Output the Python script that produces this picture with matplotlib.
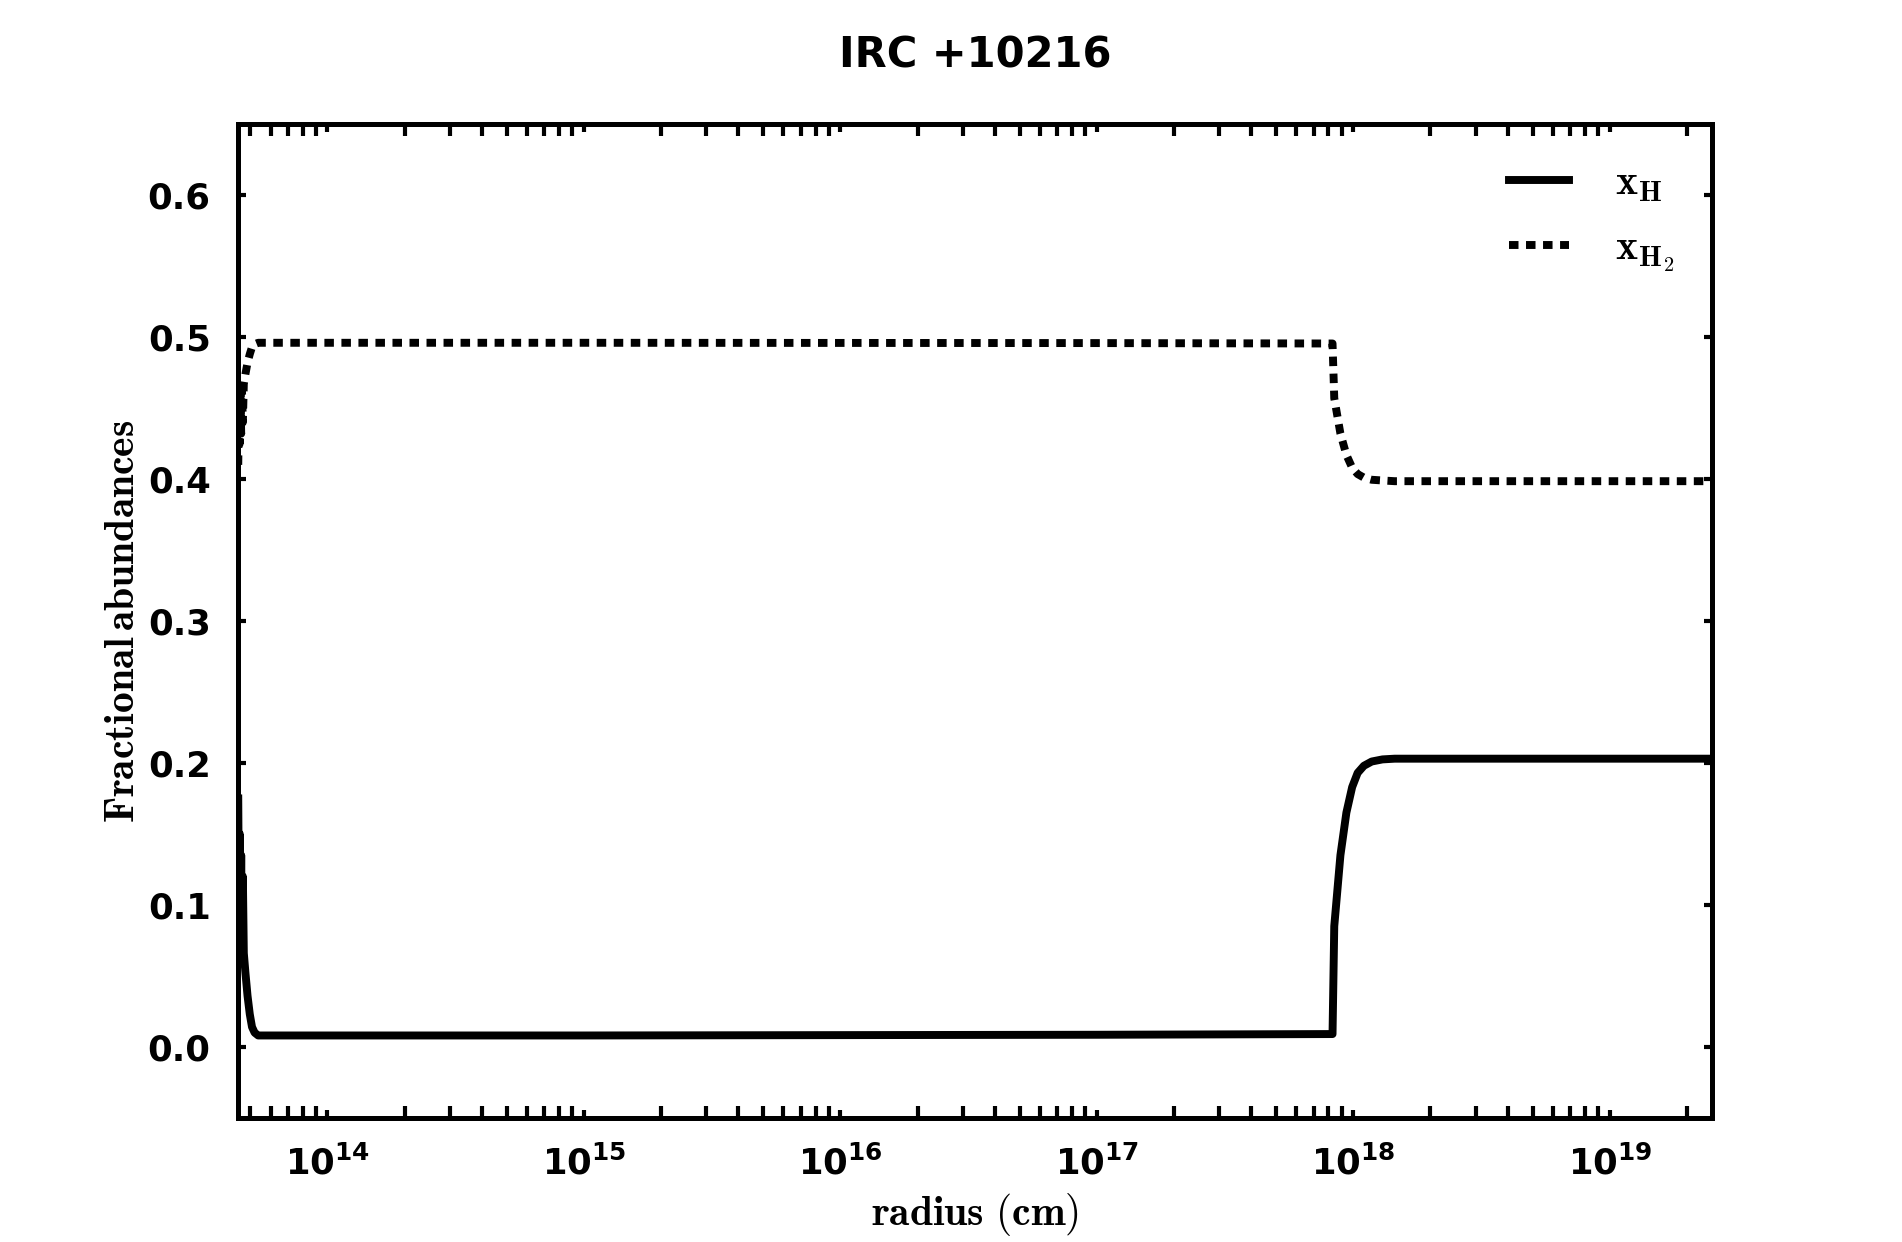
"""
Fractional abundances of atomic and molecular hydrogen vs radius for IRC +10216.
"""
import matplotlib
matplotlib.use("Agg")
import matplotlib.pyplot as plt
from matplotlib.ticker import LogLocator

plt.rcParams["mathtext.fontset"] = "cm"
plt.rcParams["font.family"] = "DejaVu Sans"
plt.rcParams["font.weight"] = "bold"

# radius (cm), values
radius = [
    4.49e13, 4.52e13, 4.55e13, 4.58e13, 4.61e13, 4.64e13, 4.68e13, 4.72e13,
    4.79e13, 4.88e13, 4.98e13, 5.08e13, 5.20e13, 5.37e13, 1.0e15, 1.0e17,
    8.30e17, 8.43e17, 8.91e17, 9.40e17, 9.90e17, 1.04e18, 1.10e18, 1.18e18,
    1.30e18, 1.45e18, 2.5e19,
]
x_h = [
    0.175, 0.090, 0.150, 0.080, 0.135, 0.072, 0.120, 0.066,
    0.052, 0.036, 0.023, 0.014, 0.010, 0.008, 0.008, 0.0085,
    0.009, 0.085, 0.135, 0.165, 0.183, 0.193, 0.198, 0.201,
    0.2025, 0.203, 0.203,
]
x_h2 = [
    0.410, 0.455, 0.425, 0.460, 0.432, 0.464, 0.440, 0.467,
    0.474, 0.482, 0.488, 0.493, 0.495, 0.496, 0.496, 0.4958,
    0.4955, 0.457, 0.432, 0.417, 0.408, 0.4035, 0.401, 0.3995,
    0.399, 0.3985, 0.3985,
]

yticks = [0.0, 0.1, 0.2, 0.3, 0.4, 0.5, 0.6]

fig, ax = plt.subplots(figsize=(12.68, 8.28), dpi=150)
fig.subplots_adjust(left=0.125, right=0.9, bottom=0.1, top=0.9)

ax.plot(radius, x_h, color="black", lw=3.8, label=r"$\mathbf{x_H}$")
ax.plot(radius, x_h2, color="black", lw=3.8, dashes=(1.2, 0.95),
        label=r"$\mathbf{x_{H_2}}$")

ax.set_xscale("log")
ax.set_xlim(4.47e13, 2.5e19)
ax.set_ylim(-0.05, 0.65)
ax.set_yticks(yticks)
ax.set_yticklabels([f"{v:.1f}" for v in yticks])
ax.xaxis.set_major_locator(LogLocator(base=10, numticks=20))
ax.xaxis.set_minor_locator(LogLocator(base=10, subs=range(2, 10), numticks=20))

for s in ax.spines.values():
    s.set_linewidth(2.4)
ax.tick_params(which="both", direction="in", top=True, right=True, width=2,
               labelsize=17)
ax.tick_params(which="major", length=4, pad=13)
ax.tick_params(which="minor", length=5.6)
for lab in ax.get_xticklabels() + ax.get_yticklabels():
    lab.set_fontweight("bold")

ax.set_xlabel(r"$\mathbf{radius\ (cm)}$", fontsize=20, labelpad=5)
ax.set_ylabel(r"$\mathbf{Fractional\,abundances}$", fontsize=20, labelpad=2)
fig.text(0.513, 0.955, "IRC +10216", ha="center", va="center",
         fontsize=20, fontweight="bold")

ax.legend(loc="upper right", frameon=False, fontsize=20, handlelength=1.45,
          handletextpad=1.1, labelspacing=0.55, borderaxespad=0.5)

fig.savefig("out.png", dpi=150)
